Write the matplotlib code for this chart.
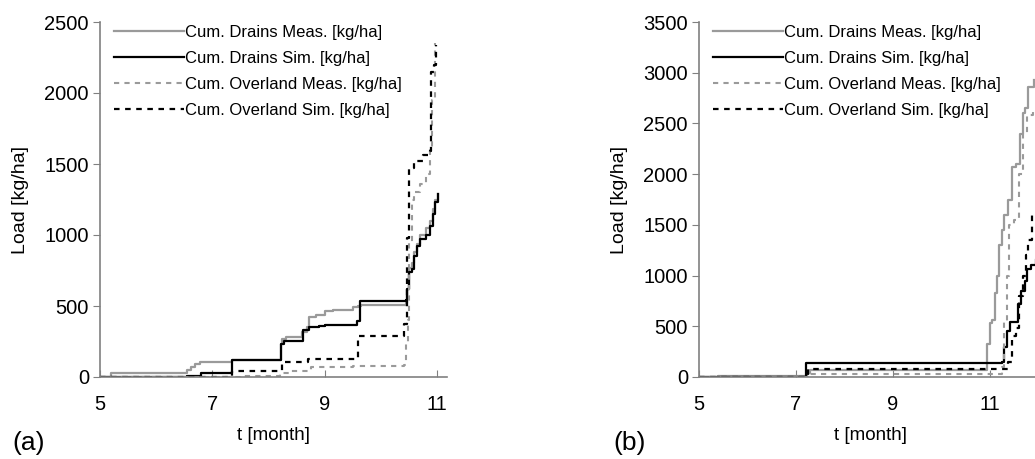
import matplotlib
matplotlib.use("Agg")
import matplotlib.pyplot as plt

plt.rcParams['font.family'] = ['Liberation Sans', 'DejaVu Sans']

# panel (a): cumulative loads, time in months
a_drain_meas_t = [5.0, 5.2, 6.55, 6.62, 6.7, 6.78, 7.35, 8.22, 8.25, 8.32, 8.6, 8.68, 8.72, 8.85, 9.0, 9.15,
                  9.5, 9.6, 9.65, 10.45, 10.47, 10.5, 10.55, 10.6, 10.65, 10.7, 10.8, 10.88, 10.93, 10.97, 11.02]
a_drain_meas_v = [0, 25, 50, 70, 90, 108, 120, 230, 270, 280, 320, 350, 420, 440, 465, 475,
                  490, 500, 510, 520, 620, 770, 800, 880, 940, 1000, 1050, 1100, 1180, 1250, 1290]
a_drain_sim_t = [5.0, 6.55, 6.8, 7.35, 8.23, 8.27, 8.62, 8.72, 8.9, 9.0, 9.58, 9.63, 10.45, 10.47,
                 10.5, 10.55, 10.6, 10.65, 10.7, 10.8, 10.87, 10.93, 10.97, 11.02]
a_drain_sim_v = [0, 10, 25, 118, 230, 255, 330, 350, 360, 365, 395, 535, 540, 620,
                 740, 760, 850, 920, 975, 1000, 1060, 1150, 1230, 1290]
a_over_meas_t = [5.0, 7.5, 8.2, 8.4, 8.75, 9.5, 10.42, 10.45, 10.48, 10.5, 10.55, 10.6, 10.7, 10.8,
                 10.88, 10.92, 10.97]
a_over_meas_v = [0, 5, 25, 45, 70, 80, 85, 250, 400, 950, 1250, 1300, 1360, 1430, 1600, 1950, 2350]
a_over_sim_t = [5.0, 7.35, 8.25, 8.7, 9.6, 10.42, 10.46, 10.5, 10.6, 10.75, 10.87, 10.9, 10.95, 10.98]
a_over_sim_v = [0, 40, 105, 130, 290, 370, 980, 1470, 1520, 1560, 1590, 2150, 2200, 2340]

# panel (b)
b_drain_meas_t = [5.0, 5.4, 7.22, 7.3, 10.95, 11.0, 11.05, 11.1, 11.15, 11.2, 11.25, 11.3, 11.37, 11.45,
                  11.55, 11.62, 11.68, 11.73, 11.8, 11.92]
b_drain_meas_v = [0, 10, 40, 70, 330, 530, 560, 830, 1000, 1300, 1450, 1600, 1750, 2070,
                  2100, 2400, 2600, 2650, 2860, 2930]
b_drain_sim_t = [5.0, 7.2, 11.25, 11.3, 11.36, 11.42, 11.58, 11.65, 11.72, 11.78, 11.85, 11.95]
b_drain_sim_v = [0, 140, 150, 300, 450, 540, 720, 850, 950, 1060, 1100, 1150]
b_over_meas_t = [5.0, 7.25, 11.25, 11.3, 11.35, 11.4, 11.5, 11.6, 11.68, 11.78, 11.9]
b_over_meas_v = [0, 25, 100, 550, 1000, 1500, 1550, 2000, 2400, 2580, 2630]
b_over_sim_t = [5.0, 7.25, 11.3, 11.38, 11.45, 11.55, 11.6, 11.68, 11.75, 11.8, 11.88]
b_over_sim_v = [0, 75, 80, 150, 400, 480, 800, 1000, 1200, 1350, 1650]

labels = ['Cum. Drains Meas. [kg/ha]', 'Cum. Drains Sim. [kg/ha]',
          'Cum. Overland Meas. [kg/ha]', 'Cum. Overland Sim. [kg/ha]']
x_ticks = [5, 7, 9, 11]

GRAY = '#9a9a9a'
AXC = '#808080'
styles = [dict(color=GRAY, ls='-', lw=1.6),
          dict(color='black', ls='-', lw=1.6),
          dict(color=GRAY, ls=(0, (2.5, 2.5)), lw=1.5),
          dict(color='black', ls=(0, (2.5, 2.5)), lw=1.6)]

W, H = 1035, 459
fig = plt.figure(figsize=(W / 100, H / 100), dpi=100)


def panel(rect, series, ymax, xmax, tag, tag_x):
    l, t, r, b = rect
    ax = fig.add_axes([l / W, 1 - b / H, (r - l) / W, (b - t) / H])
    for (tt, vv), lab, st in zip(series, labels, styles):
        ax.plot(tt, vv, drawstyle='steps-post', label=lab, **st)
    ax.set_xlim(5, xmax)
    ax.set_ylim(0, ymax)
    ax.set_xticks(x_ticks)
    ax.set_yticks(range(0, ymax + 1, 500))
    for s in ['top', 'right']:
        ax.spines[s].set_visible(False)
    for s in ['left', 'bottom']:
        ax.spines[s].set_color(AXC)
        ax.spines[s].set_linewidth(1.2)
    ax.tick_params(axis='x', direction='in', length=5, color=AXC, pad=13, labelsize=14.5)
    ax.tick_params(axis='y', direction='out', length=5, color=AXC, pad=3, labelsize=14.5)
    ax.set_ylabel('Load [kg/ha]', fontsize=14, labelpad=11)
    ax.set_xlabel('t [month]', fontsize=13.5, labelpad=9)
    ax.legend(loc='upper left', bbox_to_anchor=(0.02, 1.01), frameon=False, fontsize=12,
              handlelength=4.2, handletextpad=0.1, labelspacing=0.66, borderaxespad=0)
    fig.text(tag_x / W, 1 - 443 / H, tag, fontsize=19, va='center', ha='left')
    return ax


panel((100, 22, 447, 377),
      [(a_drain_meas_t, a_drain_meas_v), (a_drain_sim_t, a_drain_sim_v),
       (a_over_meas_t, a_over_meas_v), (a_over_sim_t, a_over_sim_v)],
      2500, 11.18, '(a)', 12)
panel((699, 22, 1043, 377),
      [(b_drain_meas_t, b_drain_meas_v), (b_drain_sim_t, b_drain_sim_v),
       (b_over_meas_t, b_over_meas_v), (b_over_sim_t, b_over_sim_v)],
      3500, 12.1, '(b)', 613)

fig.savefig('out.png', dpi=100)
